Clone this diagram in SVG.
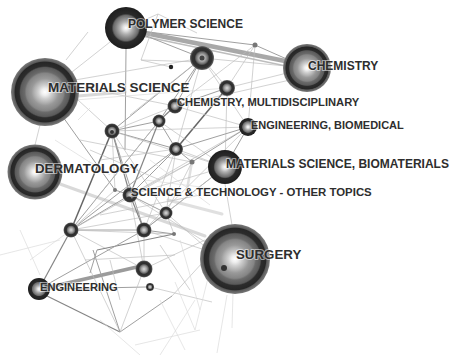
<svg xmlns="http://www.w3.org/2000/svg" width="453" height="355" viewBox="0 0 453 355">
<defs>
<radialGradient id="big" cx="50%" cy="50%" r="50%">
<stop offset="0" stop-color="#ffffff"/>
<stop offset="0.1" stop-color="#eeeeee"/>
<stop offset="0.2" stop-color="#cfcfcf"/>
<stop offset="0.32" stop-color="#b0b0b0"/>
<stop offset="0.4" stop-color="#999999"/>
<stop offset="0.55" stop-color="#858585"/>
<stop offset="0.6" stop-color="#6a6a6a"/>
<stop offset="0.72" stop-color="#5a5a5a"/>
<stop offset="0.76" stop-color="#2c2c2c"/>
<stop offset="0.88" stop-color="#262626"/>
<stop offset="0.91" stop-color="#5a5a5a"/>
<stop offset="1" stop-color="#7a7a7a"/>
</radialGradient>
<radialGradient id="dark" cx="50%" cy="50%" r="50%">
<stop offset="0" stop-color="#ffffff"/>
<stop offset="0.15" stop-color="#dedede"/>
<stop offset="0.3" stop-color="#b0b0b0"/>
<stop offset="0.45" stop-color="#8c8c8c"/>
<stop offset="0.6" stop-color="#6a6a6a"/>
<stop offset="0.68" stop-color="#2a2a2a"/>
<stop offset="1" stop-color="#1e1e1e"/>
</radialGradient>
<radialGradient id="small" cx="50%" cy="50%" r="50%">
<stop offset="0" stop-color="#dcdcdc"/>
<stop offset="0.3" stop-color="#a5a5a5"/>
<stop offset="0.5" stop-color="#6a6a6a"/>
<stop offset="0.62" stop-color="#2e2e2e"/>
<stop offset="0.85" stop-color="#333333"/>
<stop offset="1" stop-color="#6e6e6e"/>
</radialGradient>
</defs>
<style>
.e1{stroke:#bcbcbc;stroke-width:0.8;fill:none;opacity:0.85}
.e0{stroke:#d8d8d8;stroke-width:0.8;fill:none;opacity:0.8}
.e2{stroke:#a0a0a0;stroke-width:1;fill:none}
.e3{stroke:#858585;stroke-width:1.2;fill:none}
.e4{stroke:#666666;stroke-width:1.5;fill:none}
.band{stroke:#d0d0d0;stroke-width:3;fill:none;opacity:0.8;stroke-linecap:round}
.nb{fill:url(#big)}
.nd{fill:url(#dark)}
.ns{fill:url(#small)}
.dot{fill:#777}
text{font-family:"Liberation Sans",Arial,sans-serif;font-weight:bold;fill:#2e2e2e;stroke:#ffffff;stroke-width:2;stroke-opacity:0.55;paint-order:stroke;stroke-linejoin:round}
</style>
<rect width="453" height="355" fill="#ffffff"/>
<g id="connectors">
<line class="band" x1="60" y1="184" x2="205" y2="236"/>
<line class="band" x1="78" y1="96" x2="125" y2="92"/>
<line class="band" x1="168" y1="200" x2="222" y2="214" style="stroke:#d8d8d8"/>
<line class="band" x1="192" y1="162" x2="186" y2="195" style="stroke:#d8d8d8;stroke-width:2.5"/>
<line x1="140" y1="32" x2="290" y2="62" stroke="#9a9a9a" stroke-width="4.5" opacity="0.85"/>
<line x1="142" y1="36" x2="286" y2="66" stroke="#bdbdbd" stroke-width="1.5"/>
<line x1="50" y1="287" x2="137" y2="267" stroke="#8a8a8a" stroke-width="3.8" opacity="0.85"/>
<line class="e2" x1="140" y1="31" x2="255" y2="45"/>
<line class="e2" x1="255" y1="45" x2="307" y2="68"/>
<line class="e1" x1="255" y1="45" x2="227" y2="88"/>
<line class="e1" x1="255" y1="45" x2="248" y2="127"/>
<line class="e1" x1="255" y1="45" x2="175" y2="106"/>
<line class="e2" x1="126" y1="28" x2="202" y2="58"/>
<line class="e1" x1="158" y1="14" x2="141" y2="60"/>
<line class="e1" x1="158" y1="14" x2="197" y2="33"/>
<line class="e1" x1="158" y1="14" x2="126" y2="28"/>
<line class="e1" x1="141" y1="60" x2="200" y2="62"/>
<line class="e1" x1="141" y1="60" x2="171" y2="67"/>
<line class="e2" x1="126" y1="49" x2="125" y2="150"/>
<line class="e1" x1="66" y1="60" x2="88" y2="32"/>
<line class="e1" x1="72" y1="72" x2="110" y2="42"/>
<line class="e1" x1="75" y1="80" x2="202" y2="58"/>
<line class="e2" x1="202" y1="58" x2="112" y2="131"/>
<line class="e2" x1="202" y1="58" x2="159" y2="121"/>
<line class="e2" x1="202" y1="58" x2="175" y2="106"/>
<line class="e1" x1="202" y1="58" x2="176" y2="149"/>
<line class="e1" x1="202" y1="58" x2="227" y2="88"/>
<line class="e1" x1="202" y1="58" x2="307" y2="68"/>
<line class="e1" x1="202" y1="58" x2="130" y2="115"/>
<line class="e1" x1="202" y1="58" x2="248" y2="127"/>
<line class="e2" x1="227" y1="88" x2="175" y2="106"/>
<line class="e1" x1="227" y1="88" x2="307" y2="68"/>
<line class="e1" x1="227" y1="88" x2="225" y2="167"/>
<line class="e4" x1="227" y1="88" x2="176" y2="149"/>
<line class="e3" x1="175" y1="106" x2="159" y2="121"/>
<line class="e1" x1="175" y1="106" x2="112" y2="131"/>
<line class="e1" x1="175" y1="106" x2="248" y2="127"/>
<line class="e1" x1="175" y1="106" x2="290" y2="80"/>
<line class="e1" x1="78" y1="100" x2="112" y2="131"/>
<line class="e1" x1="70" y1="85" x2="175" y2="106"/>
<line class="e0" x1="75" y1="100" x2="227" y2="88"/>
<line class="e2" x1="63" y1="117" x2="115" y2="190"/>
<line class="e1" x1="40" y1="125" x2="35" y2="145"/>
<line class="e4" x1="112" y1="131" x2="71" y2="230"/>
<line class="e3" x1="112" y1="131" x2="130" y2="195"/>
<line class="e2" x1="112" y1="131" x2="144" y2="230"/>
<line class="e2" x1="112" y1="131" x2="159" y2="121"/>
<line class="e2" x1="112" y1="131" x2="176" y2="149"/>
<line class="e1" x1="112" y1="131" x2="225" y2="167"/>
<line class="e1" x1="112" y1="131" x2="166" y2="213"/>
<line class="e1" x1="112" y1="131" x2="248" y2="127"/>
<line class="e1" x1="80" y1="140" x2="192" y2="162"/>
<line class="e2" x1="159" y1="121" x2="176" y2="149"/>
<line class="e3" x1="159" y1="121" x2="130" y2="195"/>
<line class="e2" x1="159" y1="121" x2="71" y2="230"/>
<line class="e1" x1="159" y1="121" x2="225" y2="167"/>
<line class="e2" x1="176" y1="149" x2="130" y2="195"/>
<line class="e2" x1="176" y1="149" x2="71" y2="230"/>
<line class="e1" x1="176" y1="149" x2="225" y2="167"/>
<line class="e2" x1="176" y1="149" x2="248" y2="127"/>
<line class="e1" x1="176" y1="149" x2="166" y2="213"/>
<line class="e2" x1="176" y1="149" x2="192" y2="162"/>
<line class="e1" x1="176" y1="149" x2="144" y2="230"/>
<line class="e2" x1="248" y1="127" x2="225" y2="167"/>
<line class="e1" x1="248" y1="127" x2="130" y2="195"/>
<line class="e1" x1="248" y1="127" x2="144" y2="230"/>
<line class="e2" x1="248" y1="127" x2="192" y2="162"/>
<line class="e1" x1="225" y1="167" x2="130" y2="195"/>
<line class="e2" x1="225" y1="167" x2="166" y2="213"/>
<line class="e1" x1="225" y1="167" x2="144" y2="230"/>
<line class="e1" x1="225" y1="184" x2="232" y2="225"/>
<line class="e2" x1="130" y1="195" x2="166" y2="213"/>
<line class="e3" x1="130" y1="195" x2="144" y2="230"/>
<line class="e2" x1="130" y1="195" x2="71" y2="230"/>
<line class="e1" x1="130" y1="195" x2="144" y2="269"/>
<line class="e2" x1="130" y1="195" x2="115" y2="190"/>
<line class="e1" x1="130" y1="195" x2="210" y2="245"/>
<line class="e1" x1="115" y1="190" x2="112" y2="131"/>
<line class="e1" x1="115" y1="190" x2="71" y2="230"/>
<line class="e2" x1="71" y1="230" x2="144" y2="230"/>
<line class="e1" x1="71" y1="230" x2="166" y2="213"/>
<line class="e1" x1="71" y1="230" x2="144" y2="269"/>
<line class="e3" x1="71" y1="230" x2="39" y2="289"/>
<line class="e1" x1="71" y1="230" x2="120" y2="332"/>
<line class="e1" x1="71" y1="230" x2="174" y2="234"/>
<line class="e1" x1="71" y1="230" x2="192" y2="162"/>
<line class="e2" x1="144" y1="230" x2="166" y2="213"/>
<line class="e1" x1="144" y1="230" x2="144" y2="269"/>
<line class="e2" x1="144" y1="230" x2="174" y2="234"/>
<line class="e1" x1="144" y1="230" x2="205" y2="250"/>
<line class="e1" x1="166" y1="213" x2="174" y2="234"/>
<line class="e1" x1="166" y1="213" x2="203" y2="245"/>
<line class="e1" x1="166" y1="213" x2="192" y2="162"/>
<line class="e3" x1="174" y1="234" x2="97" y2="250"/>
<line class="e2" x1="97" y1="250" x2="90" y2="273"/>
<line class="e2" x1="39" y1="289" x2="144" y2="230"/>
<line class="e2" x1="50" y1="289" x2="146" y2="287"/>
<line class="e3" x1="45" y1="295" x2="120" y2="332"/>
<line class="e2" x1="120" y1="332" x2="93" y2="250"/>
<line class="e2" x1="120" y1="332" x2="172" y2="296"/>
<line class="e1" x1="120" y1="332" x2="144" y2="269"/>
<line class="e1" x1="172" y1="296" x2="203" y2="262"/>
<line class="e1" x1="150" y1="287" x2="212" y2="302"/>
<line class="e1" x1="144" y1="269" x2="205" y2="240"/>
<line class="e0" x1="233" y1="293" x2="232" y2="328"/>
<line class="e0" x1="227" y1="295" x2="217" y2="353"/>
<line class="e0" x1="160" y1="355" x2="195" y2="300"/>
<line class="e0" x1="195" y1="330" x2="175" y2="282"/>
<line class="e0" x1="135" y1="345" x2="200" y2="330"/>
<line class="e0" x1="195" y1="330" x2="210" y2="270"/>
<line class="e0" x1="160" y1="300" x2="185" y2="350"/>
<line class="e0" x1="100" y1="320" x2="140" y2="355"/>
<line class="e0" x1="30" y1="260" x2="71" y2="230"/>
<line class="e0" x1="20" y1="230" x2="40" y2="275"/>
<line class="e0" x1="0" y1="255" x2="60" y2="240"/>
<line class="e0" x1="55" y1="140" x2="110" y2="175"/>
<line class="e0" x1="78" y1="120" x2="90" y2="108"/>
<line class="e1" x1="90" y1="150" x2="160" y2="180"/>
<line class="e1" x1="100" y1="215" x2="200" y2="195"/>
<line class="e1" x1="85" y1="260" x2="175" y2="255"/>
<line class="e1" x1="110" y1="260" x2="120" y2="300"/>
<line class="e1" x1="160" y1="245" x2="190" y2="290"/>
<line class="e0" x1="180" y1="240" x2="200" y2="310"/>
<line class="e0" x1="150" y1="160" x2="210" y2="205"/>
<line class="e1" x1="100" y1="160" x2="176" y2="149"/>
<line class="e1" x1="95" y1="200" x2="159" y2="121"/>
<line class="e1" x1="130" y1="195" x2="192" y2="162"/>
<line class="e0" x1="145" y1="180" x2="225" y2="190"/>
</g>
<g id="n-polymer-science"><circle class="nd" cx="126" cy="28" r="21"/><text x="128" y="28" font-size="12">POLYMER SCIENCE</text></g>
<g id="n-materials-science"><circle class="nb" cx="45" cy="92" r="34"/><text x="48" y="92" font-size="13.5">MATERIALS SCIENCE</text></g>
<g id="n-chemistry"><circle class="nb" cx="307" cy="68" r="24"/><text x="308" y="70" font-size="12">CHEMISTRY</text></g>
<g id="n-dermatology"><circle class="nb" cx="35" cy="172" r="27.5"/><text x="35" y="173" font-size="13.3">DERMATOLOGY</text></g>
<g id="n1"><circle class="ns" cx="202" cy="58" r="12"/><circle cx="202" cy="58" r="2.5" fill="#444"/></g>
<g id="n2"><circle class="ns" cx="227" cy="88" r="8"/></g>
<g id="n-chem-multi"><circle class="ns" cx="175" cy="106" r="7.5"/><text x="177" y="106" font-size="11.2">CHEMISTRY, MULTIDISCIPLINARY</text></g>
<g id="n3"><circle class="ns" cx="159" cy="121" r="6.5"/></g>
<g id="n4"><circle class="ns" cx="112" cy="131" r="7.5"/><circle cx="112" cy="132" r="2" fill="#333"/></g>
<g id="n-eng-biomed"><circle class="nd" cx="248" cy="127" r="9"/><text x="251" y="129" font-size="11">ENGINEERING, BIOMEDICAL</text></g>
<g id="n5"><circle class="ns" cx="176" cy="149" r="7"/></g>
<g id="n-mat-biomat"><circle class="nd" cx="225" cy="167" r="17"/><text x="226" y="168" font-size="12">MATERIALS SCIENCE, BIOMATERIALS</text></g>
<g id="n-sci-tech"><circle class="ns" cx="130" cy="195" r="7.5"/><circle cx="129" cy="199" r="2.5" fill="#333"/><text x="131" y="196" font-size="11.4">SCIENCE &amp; TECHNOLOGY - OTHER TOPICS</text></g>
<g id="n6"><circle class="ns" cx="166" cy="213" r="6.5"/></g>
<g id="n7"><circle class="ns" cx="71" cy="230" r="7.5"/></g>
<g id="n8"><circle class="ns" cx="144" cy="230" r="7.5"/></g>
<g id="n-surgery"><circle class="nb" cx="235" cy="259" r="35"/><circle cx="224" cy="268" r="3" fill="#333"/><text x="236" y="259" font-size="13.3">SURGERY</text></g>
<g id="n9"><circle class="ns" cx="144" cy="269" r="8.5"/></g>
<g id="n10"><circle class="ns" cx="150" cy="287" r="4"/></g>
<g id="n-engineering"><circle class="nd" cx="39" cy="289" r="11"/><text x="40" y="291" font-size="11.1">ENGINEERING</text></g>
<g id="dots">
<circle cx="171" cy="67" r="2.2" fill="#222"/>
<circle class="dot" cx="255" cy="45" r="2.5"/>
<circle class="dot" cx="115" cy="190" r="2"/>
<circle class="dot" cx="192" cy="162" r="2.5"/>
<circle class="dot" cx="174" cy="234" r="2"/>
</g>
</svg>
